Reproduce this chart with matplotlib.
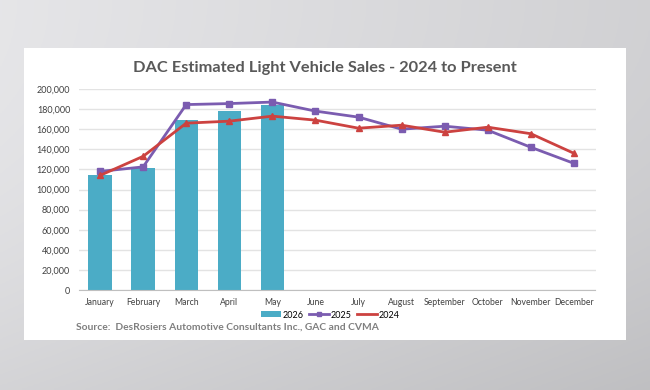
import matplotlib
matplotlib.use("Agg")
import matplotlib.pyplot as plt
import numpy as np
from matplotlib.patches import Rectangle
from matplotlib.lines import Line2D
from matplotlib.patches import Patch

months = ["January", "February", "March", "April", "May", "June", "July",
          "August", "September", "October", "November", "December"]
sales_2026 = [114000, 121500, 169000, 178000, 184000]
sales_2025 = [118000, 122500, 184500, 185500, 187000, 178000, 172000,
              160000, 163000, 159000, 142000, 126000]
sales_2024 = [114000, 133000, 166000, 168000, 173000, 169000, 161000,
              164000, 157000, 162000, 155500, 136000]
yticks = list(range(0, 200001, 20000))

FONT = "Lato"
fig = plt.figure(figsize=(6.5, 3.9), dpi=100)

# background gradient (row 0 = top of figure)
bg = fig.add_axes([0, 0, 1, 1], zorder=-10)
yy, xx = np.mgrid[0:1:200j, 0:1:300j]
val = 0.90 - 0.08 * xx - 0.07 * yy ** 2
img = np.dstack([val, val, val + 0.01])
bg.imshow(np.clip(img, 0, 1), extent=[0, 1, 0, 1], aspect="auto")
bg.add_patch(Rectangle((24 / 650, 1 - 340 / 390), 602 / 650, 292 / 390,
                       facecolor="white", edgecolor="none"))
bg.set_xlim(0, 1); bg.set_ylim(0, 1); bg.axis("off")

ax = fig.add_axes([78.5 / 650, 1 - 290 / 390, 517 / 650, 201 / 390])
x = np.arange(len(months))
ax.bar(x[:len(sales_2026)], sales_2026, width=0.54, color="#4bacc6", zorder=2)
ax.plot(x, sales_2025, color="#7b5cb0", lw=2, marker="s", ms=5, zorder=3)
ax.plot(x, sales_2024, color="#cc4240", lw=2, marker="^", ms=5, zorder=4)

ax.set_xlim(-0.5, 11.5)
ax.set_ylim(0, 200000)
ax.set_yticks(yticks)
ax.set_yticklabels([f"{v:,}" for v in yticks], fontsize=6.5, color="#404040", family=FONT)
ax.set_xticks(x)
ax.set_xticklabels(months, fontsize=6.2, color="#404040", family=FONT)
ax.tick_params(length=0, pad=6)
ax.grid(axis="y", color="#e3e3e3", lw=1, zorder=0)
for s in ["top", "right", "left"]:
    ax.spines[s].set_visible(False)
ax.spines["bottom"].set_color("#bfbfbf")
ax.set_facecolor("none")

fig.text(0.5, 1 - 68 / 390, "DAC Estimated Light Vehicle Sales - 2024 to Present",
         ha="center", va="center", fontsize=11.8, fontweight="bold",
         color="#595959", family=FONT)

handles = [Patch(facecolor="#4bacc6", label="2026"),
           Line2D([], [], color="#7b5cb0", lw=2, marker="s", ms=3, label="2025"),
           Line2D([], [], color="#cc4240", lw=2, label="2024")]
fig.legend(handles=handles, loc="center", bbox_to_anchor=(330 / 650, 1 - 315 / 390),
           ncol=3, frameon=False, handlelength=2.2, handleheight=0.6,
           columnspacing=0.6, handletextpad=0.2, prop={"family": FONT, "size": 6.5})

fig.text(76 / 650, 1 - 327 / 390,
         "Source:  DesRosiers Automotive Consultants Inc., GAC and CVMA",
         ha="left", va="center", fontsize=7.4, fontweight="bold",
         color="#7f7f7f", family=FONT)

fig.savefig("out.png", dpi=100)
